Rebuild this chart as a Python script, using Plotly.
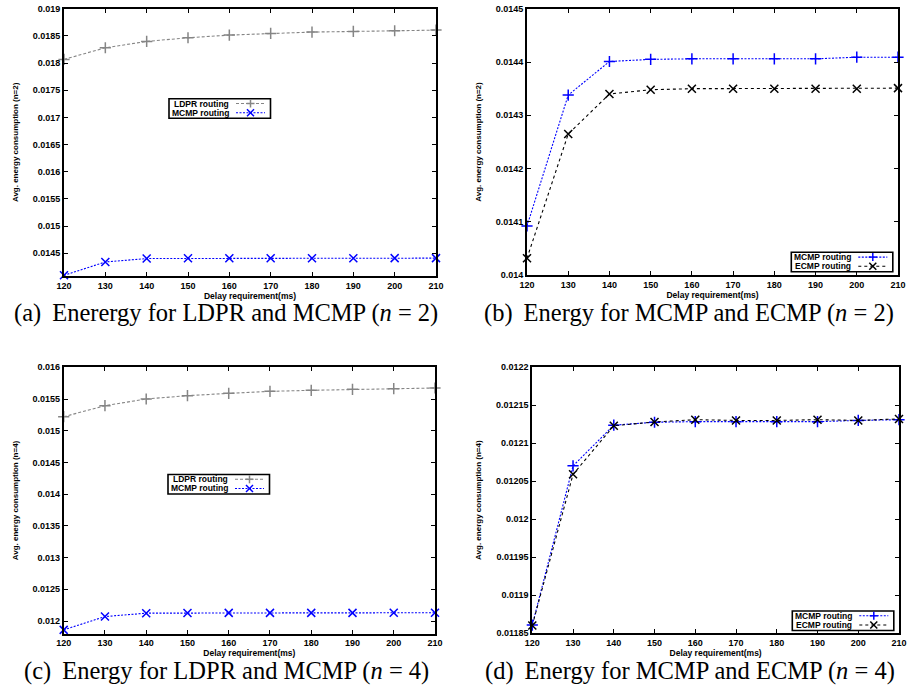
import plotly.graph_objects as go

# ---------------- data ----------------
delay_ms = [120, 130, 140, 150, 160, 170, 180, 190, 200, 210]

ldpr_n2 = [0.018067, 0.018281, 0.018398, 0.018465, 0.018514, 0.018545, 0.018570, 0.018581, 0.018594, 0.018606]
mcmp_n2 = [0.0140925, 0.014338, 0.014401, 0.014405, 0.014406, 0.014406, 0.014406, 0.014406, 0.014409, 0.014409]
ecmp_n2 = [0.014032, 0.014265, 0.014340, 0.014348, 0.014350, 0.014350, 0.014350, 0.014350, 0.014350, 0.014351]

ldpr_n4 = [0.015221, 0.015395, 0.015500, 0.015553, 0.015589, 0.015621, 0.015637, 0.015653, 0.015663, 0.015674]
mcmp_n4 = [0.0118605, 0.0120702, 0.0121237, 0.0121276, 0.0121284, 0.0121284, 0.0121284, 0.0121284, 0.0121300, 0.0121310]
ecmp_n4 = [0.0118600, 0.0120590, 0.0121230, 0.0121280, 0.0121310, 0.0121300, 0.0121300, 0.0121310, 0.0121300, 0.0121320]

x_ticks = [120, 130, 140, 150, 160, 170, 180, 190, 200, 210]

yticks_a = [0.0145, 0.015, 0.0155, 0.016, 0.0165, 0.017, 0.0175, 0.018, 0.0185, 0.019]
yticklabels_a = ["0.0145", "0.015", "0.0155", "0.016", "0.0165", "0.017", "0.0175", "0.018", "0.0185", "0.019"]
yticks_b = [0.014, 0.0141, 0.0142, 0.0143, 0.0144, 0.0145]
yticklabels_b = ["0.014", "0.0141", "0.0142", "0.0143", "0.0144", "0.0145"]
yticks_c = [0.012, 0.0125, 0.013, 0.0135, 0.014, 0.0145, 0.015, 0.0155, 0.016]
yticklabels_c = ["0.012", "0.0125", "0.013", "0.0135", "0.014", "0.0145", "0.015", "0.0155", "0.016"]
yticks_d = [0.01185, 0.0119, 0.01195, 0.012, 0.01205, 0.0121, 0.01215, 0.0122]
yticklabels_d = ["0.01185", "0.0119", "0.01195", "0.012", "0.01205", "0.0121", "0.01215", "0.0122"]

captions = [
    "(a)\u2009 Enerergy for LDPR and MCMP (<i>n</i> = 2)",
    "(b)\u2009 Energy for MCMP and ECMP (<i>n</i> = 2)",
    "(c)\u2009 Energy for LDPR and MCMP (<i>n</i> = 4)",
    "(d)\u2009 Energy for MCMP and ECMP (<i>n</i> = 4)",
]
x_title = "Delay requirement(ms)"
y_titles = ["Avg. energy consumption (n=2)", "Avg. energy consumption (n=2)",
            "Avg. energy consumption (n=4)", "Avg. energy consumption (n=4)"]
legend_names = [["LDPR routing", "MCMP routing"], ["MCMP routing", "ECMP routing"],
                ["LDPR routing", "MCMP routing"], ["MCMP routing", "ECMP routing"]]

# ---------------- styles ----------------
W, H = 908, 690
SANS = "Liberation Sans, Arial, Helvetica, sans-serif"
SERIF = "Liberation Serif, Times New Roman, serif"
GRAY = "#858585"
BLUE = "#0000ff"
BLACK = "#000000"
DASH_LDPR = "3px,2px"
DASH_MCMP = "2px,1.5px"
DASH_ECMP = "3px,3px"
TXT_W = "bold"

def px_x(v):
    return v / W

def px_y(v):
    return 1 - v / H

# plot areas in pixels: (left, right, top, bottom)
areas = [
    (64, 436, 8.7, 276),
    (527, 898, 8.7, 275.3),
    (63.7, 435, 367.3, 633.7),
    (532.3, 899, 367.3, 633),
]
yranges = [[0.01408, 0.019], [0.014, 0.0145], [0.0118, 0.016], [0.01185, 0.0122]]
ytv = [yticks_a, yticks_b, yticks_c, yticks_d]
ytt = [yticklabels_a, yticklabels_b, yticklabels_c, yticklabels_d]

fig = go.Figure()

def add_series(k, y, name, color, symbol, dash):
    fig.add_trace(go.Scatter(
        x=delay_ms, y=y, name=name, mode="lines+markers",
        xaxis="x" if k == 0 else f"x{k+1}",
        yaxis="y" if k == 0 else f"y{k+1}",
        line=dict(color=color, width=1.1, dash=dash),
        marker=dict(symbol=symbol, size=8, color=color, line=dict(color=color, width=1.5)),
        cliponaxis=False, showlegend=False,
    ))

series_styles = [
    [(ldpr_n2, GRAY, "cross-thin", DASH_LDPR), (mcmp_n2, BLUE, "x-thin", DASH_MCMP)],
    [(mcmp_n2, BLUE, "cross-thin", DASH_MCMP), (ecmp_n2, BLACK, "x-thin", DASH_ECMP)],
    [(ldpr_n4, GRAY, "cross-thin", DASH_LDPR), (mcmp_n4, BLUE, "x-thin", DASH_MCMP)],
    [(mcmp_n4, BLUE, "cross-thin", DASH_MCMP), (ecmp_n4, BLACK, "x-thin", DASH_ECMP)],
]
for k in range(4):
    for j, (vals, col, sym, dsh) in enumerate(series_styles[k]):
        add_series(k, vals, legend_names[k][j], col, sym, dsh)

layout = dict(
    width=W, height=H, margin=dict(l=0, r=0, t=0, b=0),
    paper_bgcolor="white", plot_bgcolor="white",
    font=dict(family=SANS, size=9, color="black"),
    showlegend=False,
)

for k, (l, r, t, b) in enumerate(areas):
    xs = "" if k == 0 else str(k + 1)
    layout[f"xaxis{xs}"] = dict(
        domain=[px_x(l), px_x(r)], anchor=f"y{xs}", range=[120, 210],
        tickmode="array", tickvals=x_ticks, ticktext=[str(v) for v in x_ticks],
        ticks="inside", ticklen=4, tickwidth=1, tickcolor="black",
        showline=True, linecolor="black", linewidth=1.8, mirror="ticks",
        showgrid=False, zeroline=False, automargin=False,
        tickfont=dict(family=SANS, size=9, weight=TXT_W),
        title=dict(text=x_title, font=dict(family=SANS, size=8.5, weight=TXT_W), standoff=2),
    )
    layout[f"yaxis{xs}"] = dict(
        domain=[px_y(b), px_y(t)], anchor=f"x{xs}", range=yranges[k],
        tickmode="array", tickvals=ytv[k], ticktext=ytt[k],
        ticks="inside", ticklen=4, tickwidth=1, tickcolor="black",
        showline=True, linecolor="black", linewidth=1.8, mirror="ticks",
        showgrid=False, zeroline=False, automargin=False,
        tickfont=dict(family=SANS, size=9, weight=TXT_W),
        title=dict(text=y_titles[k], font=dict(family=SANS, size=8, weight=TXT_W), standoff=13),
    )

# ---- gnuplot-style key boxes (text right-aligned, sample to the right) ----
legend_boxes = [(169, 98.7), (791.3, 252.3), (168, 474.5), (792.3, 611)]
shapes = []
annotations = []

def seg(x0, y0, x1, y1, color, width=1.0, dash="solid"):
    return dict(type="line", xref="paper", yref="paper",
                x0=px_x(x0), y0=px_y(y0), x1=px_x(x1), y1=px_y(y1),
                line=dict(color=color, width=width, dash=dash))

for k, (L, T) in enumerate(legend_boxes):
    shapes.append(dict(type="rect", xref="paper", yref="paper",
                       x0=px_x(L), x1=px_x(L + 101.5), y0=px_y(T), y1=px_y(T + 19.5),
                       line=dict(color="black", width=1.6), fillcolor="white", layer="above"))
    for j, (vals, col, sym, dsh) in enumerate(series_styles[k]):
        cy = T + 4.8 + 9.2 * j
        annotations.append(dict(text=legend_names[k][j], x=px_x(L + 62), y=px_y(cy),
                                xref="paper", yref="paper", xanchor="right", yanchor="middle",
                                showarrow=False,
                                font=dict(family=SANS, size=8.5, color="black", weight=TXT_W)))
        shapes.append(seg(L + 67, cy, L + 96, cy, col, 1.1, dsh))
        mx = L + 81.5
        if sym == "cross-thin":
            shapes.append(seg(mx - 4, cy, mx + 4, cy, col, 1.5))
            shapes.append(seg(mx, cy - 4, mx, cy + 4, col, 1.5))
        else:
            shapes.append(seg(mx - 3.5, cy - 3.5, mx + 3.5, cy + 3.5, col, 1.5))
            shapes.append(seg(mx - 3.5, cy + 3.5, mx + 3.5, cy - 3.5, col, 1.5))

cap_pos = [(226, 313), (689, 313), (226, 671), (690, 671)]
for k, (cx, cy) in enumerate(cap_pos):
    annotations.append(dict(text=captions[k], x=px_x(cx), y=px_y(cy), xref="paper", yref="paper",
                            xanchor="center", yanchor="middle", showarrow=False,
                            font=dict(family=SERIF, size=24.5, color="black")))

layout["shapes"] = shapes
layout["annotations"] = annotations

fig.update_layout(**layout)
fig.write_html("out.html", config={"displayModeBar": False},
               post_script="document.body.style.margin='0px';")
